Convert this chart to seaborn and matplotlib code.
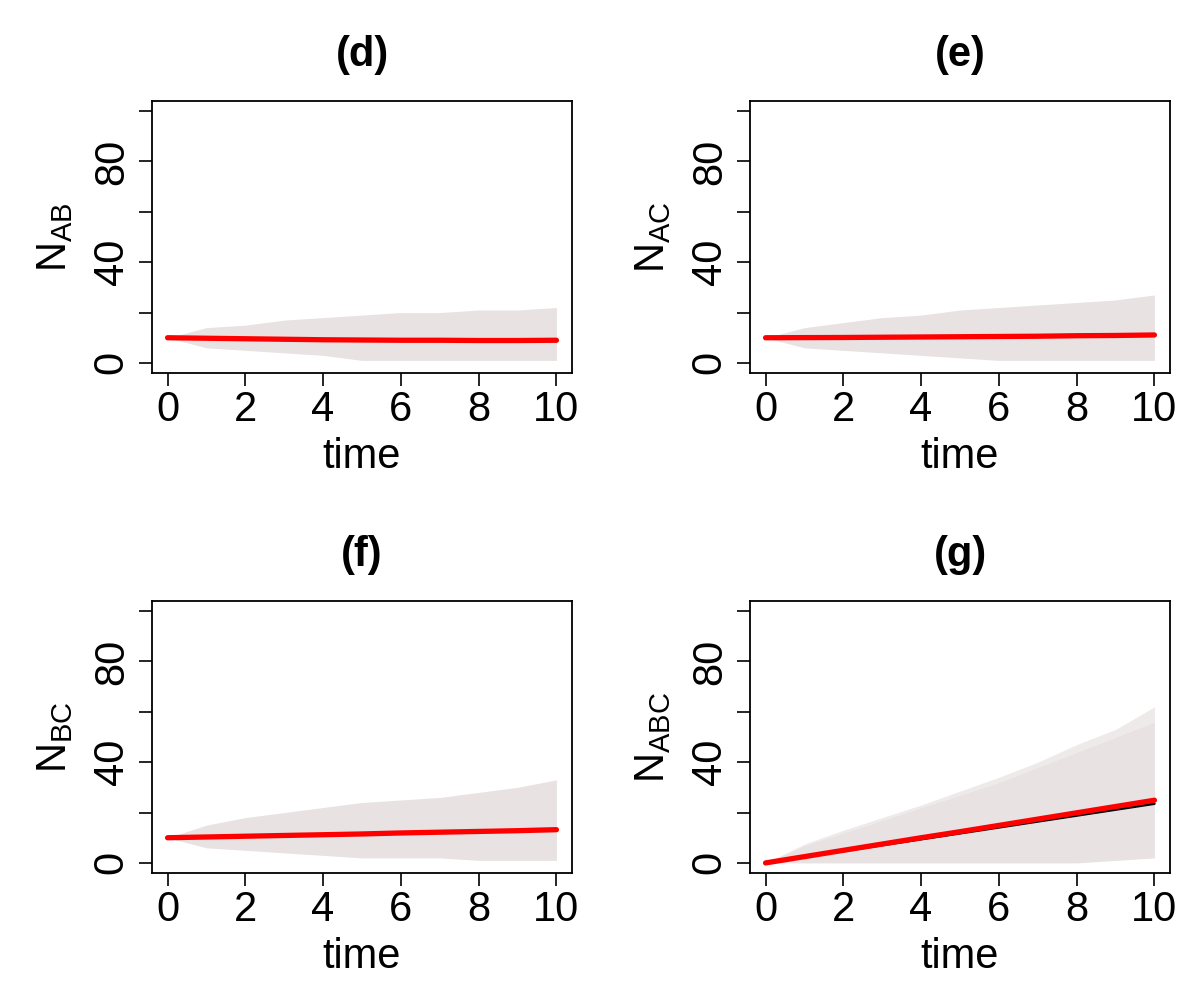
import numpy as np
import pandas as pd
import seaborn as sns
import matplotlib
matplotlib.use("Agg")
import matplotlib.pyplot as plt

# time grid (read every 1 time unit)
times = [0, 1, 2, 3, 4, 5, 6, 7, 8, 9, 10]

# simulated trajectory envelopes + mean
nab_upper = [10, 14, 15, 17, 18, 19, 20, 20, 21, 21, 22]
nab_lower = [10, 6, 5, 4, 3, 1, 1, 1, 1, 1, 1]
nab_mean = [10, 9.8, 9.6, 9.4, 9.2, 9.1, 9.0, 9.0, 8.9, 8.9, 9.0]

nac_upper = [10, 14, 16, 18, 19, 21, 22, 23, 24, 25, 27]
nac_lower = [10, 6, 5, 4, 3, 2, 1, 1, 1, 1, 1]
nac_mean = [10, 10.05, 10.1, 10.2, 10.3, 10.4, 10.5, 10.6, 10.8, 10.9, 11.1]

nbc_upper = [10, 15, 18, 20, 22, 24, 25, 26, 28, 30, 33]
nbc_lower = [10, 6, 5, 4, 3, 2, 2, 2, 1, 1, 1]
nbc_mean = [10, 10.3, 10.6, 10.9, 11.2, 11.5, 11.9, 12.2, 12.5, 12.8, 13.2]

nabc_upper = [0, 7, 12, 17, 22, 27, 32, 38, 44, 50, 56]
nabc_max = [0, 7.5, 13, 18, 23, 28.5, 34, 40, 47, 53, 62]
nabc_lower = [0, 0, 0, 0, 0, 0, 0, 0, 0, 1, 2]
nabc_mean = [0, 2.5, 5.0, 7.5, 10.0, 12.4, 14.9, 17.4, 19.9, 22.4, 24.9]
nabc_det = [0, 2.35, 4.7, 7.05, 9.4, 11.75, 14.1, 16.45, 18.8, 21.15, 23.5]

panels = [
    ("(d)", "AB", nab_upper, nab_lower, nab_mean, None, None),
    ("(e)", "AC", nac_upper, nac_lower, nac_mean, None, None),
    ("(f)", "BC", nbc_upper, nbc_lower, nbc_mean, None, None),
    ("(g)", "ABC", nabc_upper, nabc_lower, nabc_mean, nabc_det, nabc_max),
]

sns.set_theme(style="ticks")
plt.rcParams["font.family"] = ["Liberation Sans", "DejaVu Sans"]
plt.rcParams["mathtext.fontset"] = "custom"
plt.rcParams["mathtext.rm"] = "Liberation Sans"
plt.rcParams["text.color"] = "black"

band = "#E8E2E2"
fs = 30

fig = plt.figure(figsize=(11.96, 10), dpi=100)
boxes = [(152, 101), (750, 101), (152, 601), (750, 601)]

for (title, sub, up, lo, mean, det, mx), (px, py) in zip(panels, boxes):
    ax = fig.add_axes([px / 1196, 1 - (py + 272) / 1000, 420 / 1196, 272 / 1000])
    ax.set_facecolor("white")
    ax.fill_between(times, lo, up, color=band, lw=0)
    if mx is not None:
        ax.fill_between(times, up, mx, color=band, lw=0, alpha=0.7)
    if det is not None:
        sns.lineplot(x=times, y=det, color="black", lw=1.8, ax=ax)
    sns.lineplot(x=times, y=mean, color="red", lw=3.8, ax=ax)

    ax.set_xlim(-0.4, 10.4)
    ax.set_ylim(-4, 104)
    ax.set_xticks([0, 2, 4, 6, 8, 10])
    ax.set_xticklabels(["0", "2", "4", "6", "8", "10"], fontsize=fs)
    ax.set_yticks([0, 20, 40, 60, 80, 100])
    ax.set_yticklabels(["0", "", "40", "", "80", ""], fontsize=fs,
                       rotation=90, va="center")
    ax.tick_params(axis="both", direction="out", length=9.5, width=1.2,
                   color="black", labelcolor="black")
    ax.tick_params(axis="x", pad=3)
    ax.tick_params(axis="y", pad=5)
    for s in ax.spines.values():
        s.set_visible(True)
        s.set_color("black")
        s.set_linewidth(1.3)

    ax.text(0.5, (373 - 55) / 272, title, transform=ax.transAxes,
            ha="center", va="center", fontsize=fs, fontweight="bold",
            color="black")
    ax.text(0.5, (373 - 457) / 272, "time", transform=ax.transAxes,
            ha="center", va="center", fontsize=fs, color="black")
    ax.text((55 - 152) / 420, 0.5, r"$\mathregular{N_{%s}}$" % sub,
            transform=ax.transAxes, ha="center", va="center",
            fontsize=fs, rotation=90, color="black")
    ax.set_xlabel("")
    ax.set_ylabel("")

fig.savefig("out.png", dpi=100, facecolor="white")
